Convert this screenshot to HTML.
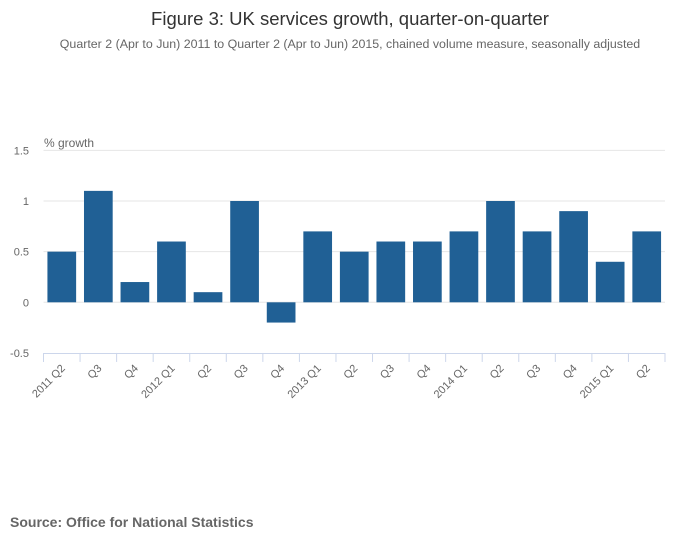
<!DOCTYPE html>
<html><head><meta charset="utf-8"><style>
body{margin:0;background:#fff;font-family:"Liberation Sans",sans-serif;}
</style></head><body>
<svg width="700" height="549" xmlns="http://www.w3.org/2000/svg">
<text x="350" y="25" text-anchor="middle" font-size="18.5" fill="#333">Figure 3: UK services growth, quarter-on-quarter</text>
<text x="350" y="48" text-anchor="middle" font-size="12.4" fill="#666">Quarter 2 (Apr to Jun) 2011 to Quarter 2 (Apr to Jun) 2015, chained volume measure, seasonally adjusted</text>
<text x="44" y="147" font-size="12" fill="#666">% growth</text>
<g id="grid"></g><g id="bars"></g><g id="xaxis"></g>
<text x="10" y="527" font-size="14" font-weight="bold" fill="#666">Source: Office for National Statistics</text>
</svg>
<script>
const categories=["2011 Q2","Q3","Q4","2012 Q1","Q2","Q3","Q4","2013 Q1","Q2","Q3","Q4","2014 Q1","Q2","Q3","Q4","2015 Q1","Q2"];
const values=[0.5,1.1,0.2,0.6,0.1,1.0,-0.2,0.7,0.5,0.6,0.6,0.7,1.0,0.7,0.9,0.4,0.7];
const yTicks=[-0.5,0,0.5,1,1.5];
const yTickLabels=["-0.5","0","0.5","1","1.5"];
const NS="http://www.w3.org/2000/svg";
const left=43.5,right=665,y0=302.3,unit=101.3;
const band=(right-left)/categories.length;
const y=v=>y0-v*unit;
const x=i=>left+i*band;
function mk(t,a,p){const e=document.createElementNS(NS,t);for(const k in a)e.setAttribute(k,a[k]);p.appendChild(e);return e;}
const g=document.getElementById('grid'),b=document.getElementById('bars'),xa=document.getElementById('xaxis');
yTicks.forEach((t,i)=>{
 if(t!==-0.5){const l=mk('line',{x1:left,x2:right,y1:y(t),y2:y(t),stroke:'#e6e6e6','stroke-width':1},g);
 
 }
 const tx=mk('text',{x:29,y:y(t)+4,'text-anchor':'end','font-size':11,fill:'#666'},g);tx.textContent=yTickLabels[i];
 
 
});
values.forEach((v,i)=>{
 const w=28.7,cx=x(i)+band/2;
 const r=mk('rect',{x:cx-w/2,y:Math.min(y(v),y0),width:w,height:Math.abs(y(v)-y0),fill:'#206095'},b);
 
 
});
const ax=mk('line',{x1:left,x2:right,y1:y(-0.5)+0.5,y2:y(-0.5)+0.5,stroke:'#ccd6eb','stroke-width':1},xa);


for(let i=0;i<=categories.length;i++){
 mk('line',{x1:x(i),x2:x(i),y1:y(-0.5),y2:y(-0.5)+9,stroke:'#ccd6eb','stroke-width':1},xa);
}
categories.forEach((c,i)=>{
 const cx=x(i)+band/2+4,cy=y(-0.5)+16;
 const t=mk('text',{x:cx,y:cy,'text-anchor':'end','font-size':11,fill:'#666',transform:`rotate(-45 ${cx} ${cy})`},xa);
 t.textContent=c;
 
 
});
</script>
</body></html>
